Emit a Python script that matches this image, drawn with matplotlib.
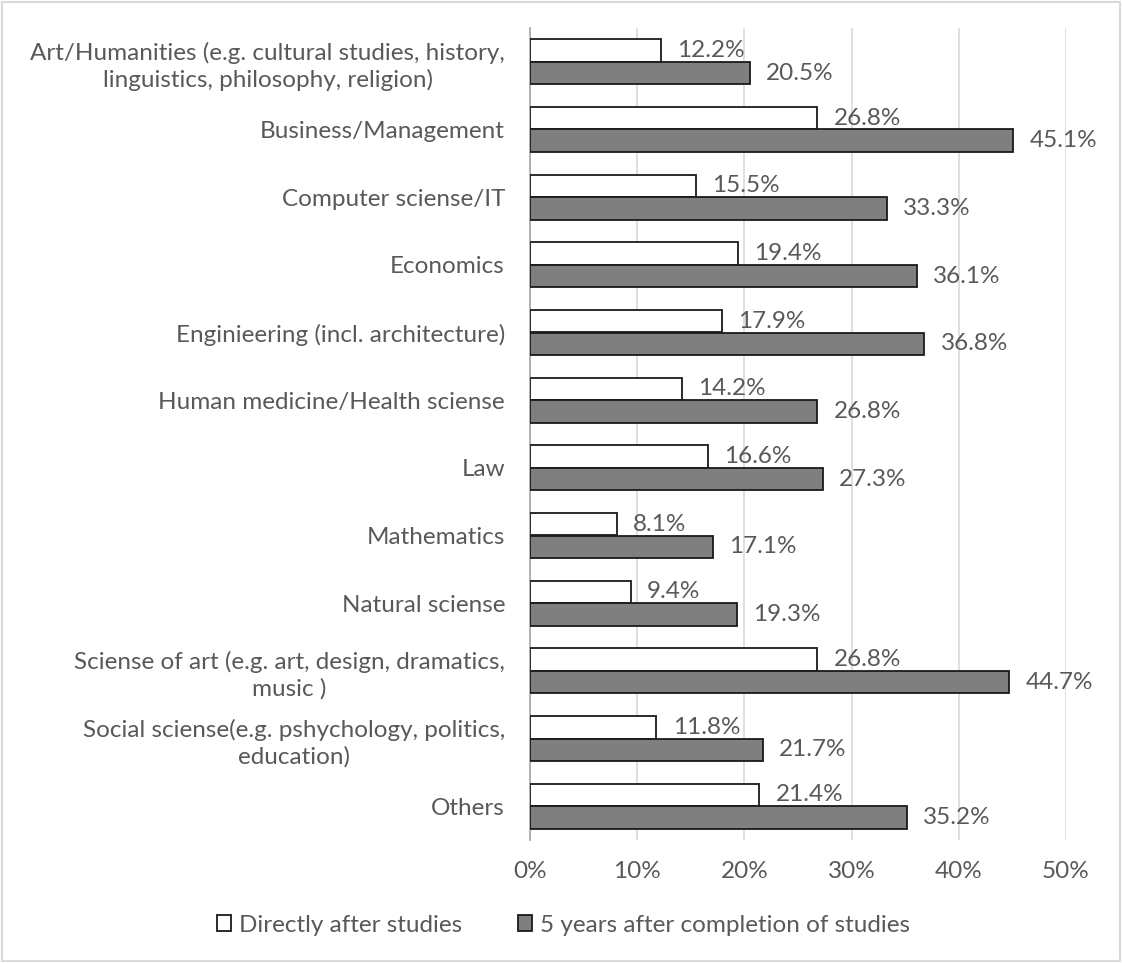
import matplotlib.pyplot as plt
import numpy as np
from matplotlib.patches import Rectangle

plt.rcParams['font.family'] = ['Lato', 'DejaVu Sans']

categories = [
    'Art/Humanities (e.g. cultural studies, history,\nlinguistics, philosophy, religion)',
    'Business/Management',
    'Computer sciense/IT',
    'Economics',
    'Enginieering (incl. architecture)',
    'Human medicine/Health sciense',
    'Law',
    'Mathematics',
    'Natural sciense',
    'Sciense of art (e.g. art, design, dramatics,\nmusic )',
    'Social sciense(e.g. pshychology, politics,\neducation)',
    'Others',
]
directly_after = [12.2, 26.8, 15.5, 19.4, 17.9, 14.2, 16.6, 8.1, 9.4, 26.8, 11.8, 21.4]
five_years_after = [20.5, 45.1, 33.3, 36.1, 36.8, 26.8, 27.3, 17.1, 19.3, 44.7, 21.7, 35.2]
series_names = ['Directly after studies', '5 years after completion of studies']
xticks = [0, 10, 20, 30, 40, 50]

text_color = '#595959'
grid_color = '#d9d9d9'
fs = 17.5

fig = plt.figure(figsize=(11.22, 9.63), dpi=100)
ax = fig.add_axes([530 / 1122, 123 / 963, 536 / 1122, 812 / 963])

y = np.arange(len(categories))
h = 0.333
ax.barh(y - h / 2, directly_after, height=h, color='white', edgecolor='#1a1a1a',
        linewidth=1.3, label=series_names[0], zorder=3)
ax.barh(y + h / 2, five_years_after, height=h, color='#7f7f7f', edgecolor='#1a1a1a',
        linewidth=1.3, label=series_names[1], zorder=3)

for yi, v in zip(y, directly_after):
    ax.text(v + 1.5, yi - h / 2, f'{v:.1f}%', va='center', ha='left',
            fontsize=fs, color=text_color, zorder=4)
for yi, v in zip(y, five_years_after):
    ax.text(v + 1.5, yi + h / 2, f'{v:.1f}%', va='center', ha='left',
            fontsize=fs, color=text_color, zorder=4)

ax.set_xlim(0, 50)
ax.set_ylim(len(categories) - 0.5, -0.5)
ax.set_xticks(xticks)
ax.set_xticklabels([f'{t}%' for t in xticks])
ax.set_yticks(y)
ax.set_yticklabels(categories, multialignment='center', linespacing=1.3)
ax.tick_params(axis='x', length=0, pad=15, labelsize=fs, labelcolor=text_color)
ax.tick_params(axis='y', length=0, pad=18, labelsize=fs, labelcolor=text_color)

ax.grid(axis='x', color=grid_color, linewidth=1.2, zorder=0)
for s in ['top', 'right', 'bottom']:
    ax.spines[s].set_visible(False)
ax.spines['left'].set_color('#a6a6a6')
ax.spines['left'].set_linewidth(1.2)

fig.legend(loc='center', bbox_to_anchor=(0.502, 1 - 925 / 963), ncol=2,
           frameon=False, fontsize=fs, labelcolor=text_color,
           handlelength=0.6, handleheight=0.6, handletextpad=0.3,
           columnspacing=2.3)

# light frame around the whole chart area
fig.patches.append(Rectangle((0.002, 0.002), 0.996, 0.996, transform=fig.transFigure,
                             fill=False, edgecolor=grid_color, linewidth=1.5))

fig.savefig('out.png', dpi=100)
